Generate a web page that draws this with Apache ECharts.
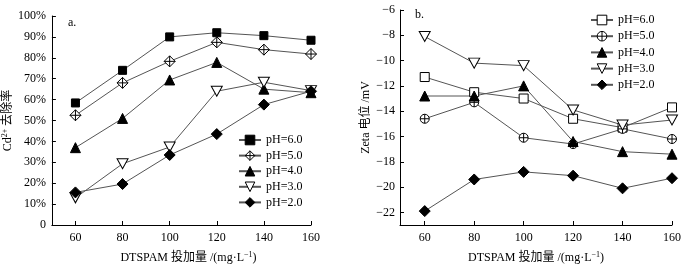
<!DOCTYPE html>
<html>
<head>
<meta charset="utf-8">
<script src="https://cdn.jsdelivr.net/npm/echarts@6/dist/echarts.min.js"></script>
<style>
html,body{margin:0;padding:0;background:#fff;}
#chart{width:687px;height:270px;}
</style>
</head>
<body>
<div id="chart"></div>
<script>
// 投加量
var doses = [60, 80, 100, 120, 140, 160];
var phNames = ['pH=6.0', 'pH=5.0', 'pH=4.0', 'pH=3.0', 'pH=2.0'];
// a. Cd2+ 去除率 (%)
var removal60 = [58.4, 74.0, 90.0, 92.0, 90.6, 88.4];
var removal50 = [52.5, 68.0, 78.3, 87.4, 83.9, 81.8];
var removal40 = [37.0, 51.0, 69.4, 77.8, 65.0, 63.3];
var removal30 = [13.0, 29.3, 37.3, 64.0, 68.3, 64.3];
var removal20 = [15.6, 19.6, 33.5, 43.5, 57.6, 64.0];
// b. Zeta 电位 (mV)
var zeta60 = [-11.3, -12.5, -13.0, -14.6, -15.3, -13.7];
var zeta50 = [-14.6, -13.3, -16.1, -16.6, -15.4, -16.2];
var zeta40 = [-12.8, -12.8, -12.0, -16.4, -17.2, -17.4];
var zeta30 = [-8.1, -10.2, -10.4, -13.9, -15.1, -14.7];
var zeta20 = [-21.9, -19.4, -18.8, -19.1, -20.1, -19.3];
var zetaTicks = [-22, -20, -18, -16, -14, -12, -10, -8, -6];

var FONT = "'Liberation Serif','Noto Sans CJK SC',serif";
var symCrossDiamond = 'path://M0,-10 L10,0 L0,10 L-10,0 Z M0,-10 L0,10 M-10,0 L10,0';
var symCrossCircle = 'path://M-10,0 A10,10 0 1,1 10,0 A10,10 0 1,1 -10,0 Z M-10,0 L10,0 M0,-10 L0,10';
var symTriDown = 'path://M-10,-9 L10,-9 L0,9 Z';

var styleA = [
    {symbol: 'rect', size: 8, fill: '#000'},
    {symbol: symCrossDiamond, size: 11, fill: '#fff'},
    {symbol: 'triangle', size: 10, fill: '#000'},
    {symbol: symTriDown, size: [11, 10], fill: '#fff'},
    {symbol: 'diamond', size: 11, fill: '#000'}
];
var styleB = [
    {symbol: 'rect', size: 9, fill: '#fff'},
    {symbol: symCrossCircle, size: 9, fill: '#fff'},
    {symbol: 'triangle', size: 10, fill: '#000'},
    {symbol: symTriDown, size: [11, 10], fill: '#fff'},
    {symbol: 'diamond', size: 11, fill: '#000'}
];

function pairs(vals){
    return doses.map(function(d, i){ return [d, vals[i]]; });
}

function makeSeries(name, vals, st, idx){
    return {
        name: name,
        type: 'line',
        xAxisIndex: idx, yAxisIndex: idx,
        data: pairs(vals),
        symbol: st.symbol,
        symbolSize: st.size,
        showAllSymbol: true,
        lineStyle: {color: '#555', width: 1},
        itemStyle: {color: st.fill, borderColor: '#000', borderWidth: 1},
        emphasis: {disabled: true},
        animation: false,
        z: 3
    };
}

// 右图的系列名加空格，避免和左图重名
function nameB(n){ return n + ' '; }

function legendItems(styles, suffix){
    return phNames.map(function(n, i){
        return {
            name: suffix ? nameB(n) : n,
            itemStyle: {color: styles[i].fill, borderColor: '#000', borderWidth: 1}
        };
    });
}

var axisCommon = {
    axisLine: {show: true, lineStyle: {color: '#000', width: 1}},
    axisTick: {show: true, inside: true, length: 4, lineStyle: {color: '#000'}},
    splitLine: {show: false},
    axisLabel: {color: '#000', fontFamily: FONT, fontSize: 12}
};

function xAx(idx){
    return Object.assign({}, axisCommon, {
        type: 'value', gridIndex: idx, min: 50, max: 160,
        axisLabel: {color: '#000', fontFamily: FONT, fontSize: 12, margin: 7,
            customValues: doses},
        axisTick: {show: true, inside: true, length: 4, lineStyle: {color: '#000'}, customValues: doses},
        name: 'DTSPAM 投加量 /(mg·L{s|−1})',
        nameLocation: 'middle',
        nameGap: 26,
        nameTextStyle: {color: '#000', fontFamily: FONT, fontSize: 12,
            padding: idx === 0 ? [0, 0, 0, 14] : 0,
            rich: {s: {fontSize: 8, verticalAlign: 'top', padding: [0, 0, 6, 0], fontFamily: FONT}}}
    });
}

var legendText = {fontSize: 12, fontFamily: FONT, color: '#000'};

var option = {
    backgroundColor: '#fff',
    animation: false,
    textStyle: {fontFamily: FONT},
    title: [
        {text: 'a.', left: 63, top: 12, textStyle: {fontSize: 12, fontWeight: 'normal', fontFamily: FONT, color: '#000'}},
        {text: 'b.', left: 410, top: 4, textStyle: {fontSize: 12, fontWeight: 'normal', fontFamily: FONT, color: '#000'}}
    ],
    legend: [
        {data: legendItems(styleA, false), orient: 'vertical', left: 233, top: 129,
         itemWidth: 22, itemHeight: 12, itemGap: 3.6,
         textStyle: legendText, selectedMode: false},
        {data: legendItems(styleB, true), orient: 'vertical', left: 585, top: 9,
         itemWidth: 22, itemHeight: 12, itemGap: 4.2,
         textStyle: legendText, selectedMode: false}
    ],
    grid: [
        {left: 51, top: 16, width: 260, height: 209},
        {left: 400, top: 10, width: 272, height: 215}
    ],
    xAxis: [xAx(0), xAx(1)],
    yAxis: [
        Object.assign({}, axisCommon, {
            type: 'value', gridIndex: 0, min: 0, max: 100, interval: 10,
            axisLabel: {color: '#000', fontFamily: FONT, fontSize: 12, margin: 6,
                formatter: function(v){ return v === 0 ? '0' : v + '%'; }},
            name: 'Cd{s|2+} 去除率',
            nameLocation: 'middle', nameGap: 32,
            nameTextStyle: {color: '#000', fontFamily: FONT, fontSize: 12,
                rich: {s: {fontSize: 8, verticalAlign: 'top', padding: [0, 0, 6, 0], fontFamily: FONT}}}
        }),
        Object.assign({}, axisCommon, {
            type: 'value', gridIndex: 1, min: -23, max: -6,
            axisLabel: {color: '#000', fontFamily: FONT, fontSize: 12, margin: 5,
                customValues: zetaTicks,
                formatter: function(v){ return String(v).replace('-', '−'); }},
            axisTick: {show: true, inside: true, length: 4, lineStyle: {color: '#000'}, customValues: zetaTicks},
            name: 'Zeta 电位 /mV',
            nameLocation: 'middle', nameGap: 27,
            nameTextStyle: {color: '#000', fontFamily: FONT, fontSize: 12}
        })
    ],
    series: [
        makeSeries(phNames[0], removal60, styleA[0], 0),
        makeSeries(phNames[1], removal50, styleA[1], 0),
        makeSeries(phNames[2], removal40, styleA[2], 0),
        makeSeries(phNames[3], removal30, styleA[3], 0),
        makeSeries(phNames[4], removal20, styleA[4], 0),
        makeSeries(nameB(phNames[0]), zeta60, styleB[0], 1),
        makeSeries(nameB(phNames[1]), zeta50, styleB[1], 1),
        makeSeries(nameB(phNames[2]), zeta40, styleB[2], 1),
        makeSeries(nameB(phNames[3]), zeta30, styleB[3], 1),
        makeSeries(nameB(phNames[4]), zeta20, styleB[4], 1)
    ]
};

var myChart = echarts.init(document.getElementById('chart'), null, {renderer: 'canvas'});
myChart.setOption(option);
</script>
</body>
</html>
